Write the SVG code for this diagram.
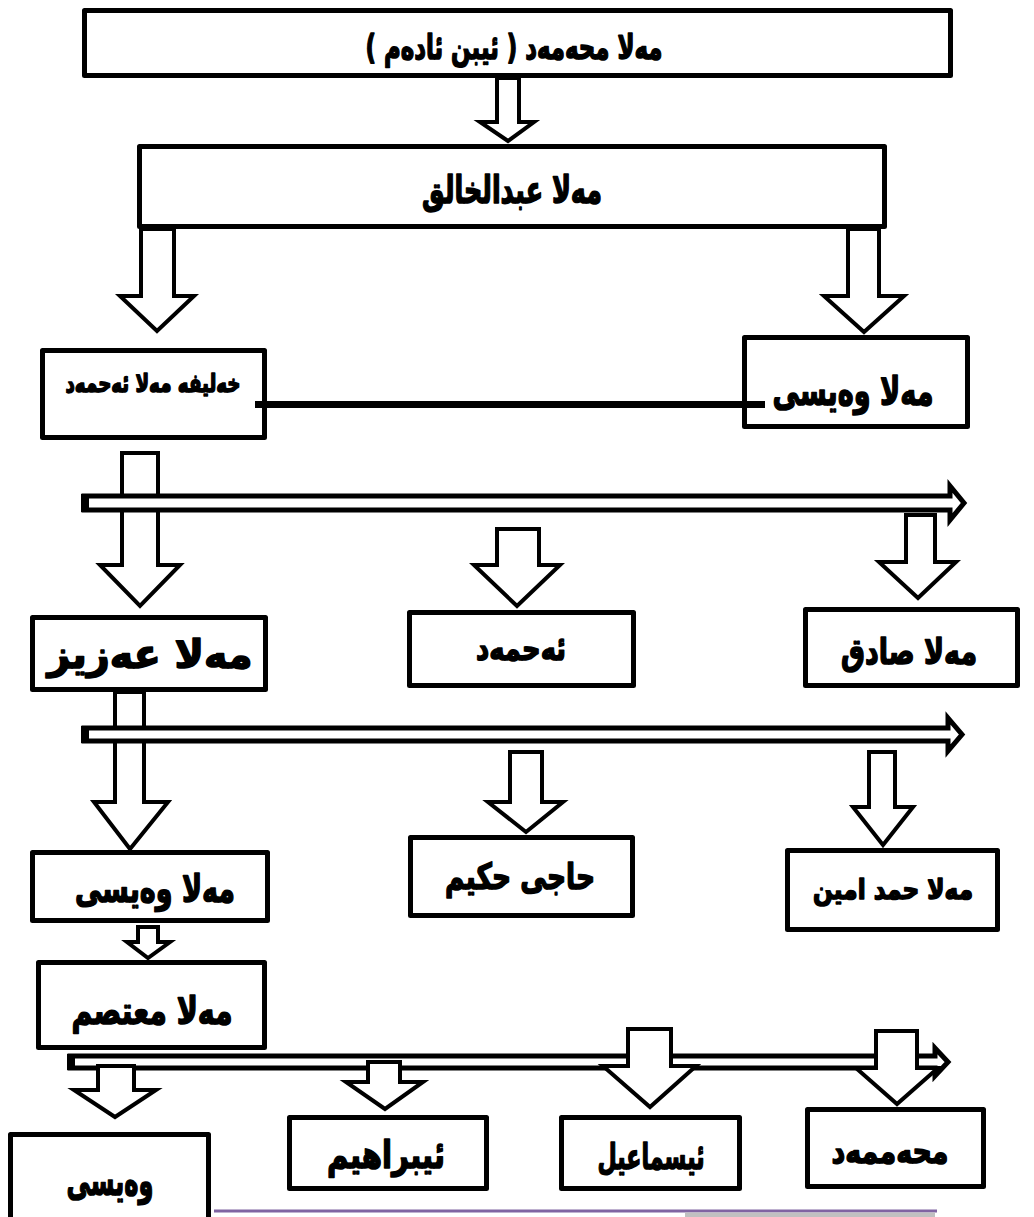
<svg xmlns="http://www.w3.org/2000/svg" width="1034" height="1217" viewBox="0 0 1034 1217">
<style>
.box{fill:#fff;stroke:#000;stroke-width:5;stroke-linejoin:round}
.arr{fill:#fff;stroke:#000;stroke-width:4;stroke-linejoin:miter}
.band{fill:#fff;stroke:#000;stroke-width:5;stroke-linejoin:miter}
.t{font-family:"DejaVu Sans","Noto Sans",sans-serif;font-weight:bold;text-anchor:middle;fill:#000;stroke:#000;stroke-width:1.6;stroke-linejoin:round;direction:rtl}
</style>
<rect width="1034" height="1217" fill="#fff"/>
<g id="nodes">
<g id="n1"><rect class="box" x="84.5" y="10.5" width="866" height="65"/><text class="t" x="514" y="59" font-size="34" textLength="297" lengthAdjust="spacingAndGlyphs">مەلا محەمەد ( ئیبن ئادەم )</text></g>
<g id="n2"><rect class="box" x="139.5" y="146.5" width="745" height="80"/><text class="t" x="512" y="203" font-size="38" textLength="180" lengthAdjust="spacingAndGlyphs">مەلا عبدالخالق</text></g>
<g id="n3"><rect class="box" x="42.5" y="350.5" width="222" height="87"/><text class="t" x="153" y="392" font-size="25" textLength="175" lengthAdjust="spacingAndGlyphs">خەلیفە مەلا ئەحمەد</text></g>
<g id="n4"><rect class="box" x="744.5" y="337.5" width="223" height="89"/><text class="t" x="853" y="405" font-size="40" textLength="161" lengthAdjust="spacingAndGlyphs">مەلا وەیسی</text></g>
<g id="n5"><rect class="box" x="32.5" y="617.5" width="233" height="72"/><text class="t" x="150" y="668" font-size="40" textLength="205" lengthAdjust="spacingAndGlyphs">مەلا عەزیز</text></g>
<g id="n6"><rect class="box" x="409.5" y="612.5" width="224" height="73"/><text class="t" x="521" y="660" font-size="33" textLength="90" lengthAdjust="spacingAndGlyphs">ئەحمەد</text></g>
<g id="n7"><rect class="box" x="805.5" y="609.5" width="212" height="76"/><text class="t" x="909" y="664" font-size="36" textLength="136" lengthAdjust="spacingAndGlyphs">مەلا صادق</text></g>
<g id="n8"><rect class="box" x="32.5" y="852.5" width="235" height="68"/><text class="t" x="155" y="902" font-size="38" textLength="160" lengthAdjust="spacingAndGlyphs">مەلا وەیسی</text></g>
<g id="n9"><rect class="box" x="410.5" y="837.5" width="222" height="78"/><text class="t" x="520" y="889" font-size="36" textLength="150" lengthAdjust="spacingAndGlyphs">حاجی حکیم</text></g>
<g id="n10"><rect class="box" x="787.5" y="850.5" width="210" height="79"/><text class="t" x="893" y="899" font-size="28" textLength="160" lengthAdjust="spacingAndGlyphs">مەلا حمد امین</text></g>
<g id="n11"><rect class="box" x="38.5" y="962.5" width="226" height="85"/><text class="t" x="152" y="1024" font-size="38" textLength="161" lengthAdjust="spacingAndGlyphs">مەلا معتصم</text></g>
<g id="n12"><rect class="box" x="10.5" y="1134.5" width="198" height="90"/><text class="t" x="110" y="1195" font-size="40" textLength="87" lengthAdjust="spacingAndGlyphs">وەیسی</text></g>
<g id="n13"><rect class="box" x="289.5" y="1117.5" width="197" height="71"/><text class="t" x="386" y="1168" font-size="38" textLength="118" lengthAdjust="spacingAndGlyphs">ئیبراهیم</text></g>
<g id="n14"><rect class="box" x="561.5" y="1117.5" width="178" height="71"/><text class="t" x="651" y="1169" font-size="36" textLength="107" lengthAdjust="spacingAndGlyphs">ئیسماعیل</text></g>
<g id="n15"><rect class="box" x="807.5" y="1109.5" width="176" height="77"/><text class="t" x="890" y="1163" font-size="34" textLength="117" lengthAdjust="spacingAndGlyphs">محەممەد</text></g>
</g>
<g id="connectors">
<polygon class="arr" points="497,78 519,78 519,122 534,122 508,141 480,122 497,122"/>
<polygon class="arr" points="141,229 174,229 174,296 194,296 157,331 120,296 141,296"/>
<polygon class="arr" points="848,229 879,229 879,296 904,296 864,332 824,296 848,296"/>
<rect x="255" y="401" width="510" height="7" fill="#000"/>
<polygon class="arr" points="122,453 158,453 158,565 180,565 140,606 100,565 122,565"/>
<polygon class="arr" points="115,692 144,692 144,802 168,802 130,849 94,802 115,802"/>
<polygon class="band" points="84,496 950,496 950,486 964,503 950,520 950,510 84,510"/>
<rect x="81" y="494" width="8" height="18" fill="#000"/>
<polygon class="band" points="84,728 948,728 948,718 962,734.5 948,751 948,741 84,741"/>
<rect x="81" y="726" width="8" height="17" fill="#000"/>
<polygon class="arr" points="497,529 539,529 539,565 560,565 517,606 474,565 497,565"/>
<polygon class="arr" points="906,515 935,515 935,562 956,562 918,598 879,562 906,562"/>
<polygon class="arr" points="510,752 542,752 542,802 563,802 526,832 488,802 510,802"/>
<polygon class="arr" points="869,752 895,752 895,807 913,807 883,845 853,807 869,807"/>
<polygon class="arr" points="138,927 158,927 158,942 170,942 148,958 127,942 138,942"/>
<polygon class="band" points="70,1056 935,1056 935,1048 948,1062 935,1076 935,1068 70,1068"/>
<rect x="67" y="1054" width="8" height="16" fill="#000"/>
<polygon class="arr" points="98,1066 134,1066 134,1090 156,1090 115,1117 74,1090 98,1090"/>
<polygon class="arr" points="368,1062 400,1062 400,1082 423,1082 385,1109 346,1082 368,1082"/>
<polygon class="arr" points="628,1029 671,1029 671,1066 696,1066 650,1107 603,1066 628,1066"/>
<polygon class="arr" points="876,1031 917,1031 917,1068 938,1068 897,1104 856,1068 876,1068"/>
</g>
<rect x="214" y="1209.5" width="723" height="3" fill="#8064a2"/>
<rect x="685" y="1212.5" width="250" height="4.5" fill="#c0c0c0"/>
</svg>
